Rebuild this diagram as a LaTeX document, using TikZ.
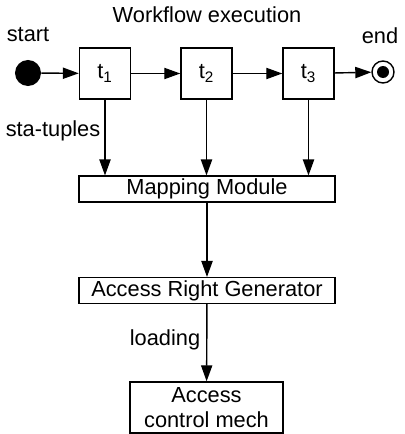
\documentclass[tikz,border=0pt]{standalone}
\usepackage{fontspec}
\setmainfont{Liberation Sans}
\usetikzlibrary{arrows.meta}
\begin{document}
\begin{tikzpicture}[
		x=0.025cm, y=-0.025cm,
		font=\fontsize{15.5}{18}\selectfont,
		task/.style={draw, line width=1pt, minimum width=1.275cm, minimum height=1.275cm, inner sep=0pt},
		module/.style={draw, line width=1pt, minimum width=6.4cm, minimum height=0.64cm, inner sep=0pt},
		arrow/.style={-{Triangle[length=0.4cm, width=0.28cm]}, line width=1pt}
	]
	\useasboundingbox (0,0) rectangle (404,434);

	% Workflow execution
	\node (title) at (207,15) {Workflow execution};
	\node (startlbl) at (28,35) {start};
	\node (endlbl) at (380,36) {end};

	\node[circle, fill=black, minimum size=0.65cm, inner sep=0pt] (start) at (28,73) {};
	\node[task] (t1) at (105,73.5) {t\textsubscript{1}};
	\node[task] (t2) at (206.5,73.5) {t\textsubscript{2}};
	\node[task] (t3) at (308.5,73.5) {t\textsubscript{3}};
	\node[circle, draw, line width=1pt, minimum size=0.55cm, inner sep=0pt] (end) at (383,72) {};
	\fill (end.center) circle (6);

	\draw[arrow] (start) -- (t1);
	\draw[arrow] (t1) -- (t2);
	\draw[arrow] (t2) -- (t3);
	\draw[arrow] (t3) -- (end);

	% Modules
	\node[module] (map) at (207,189) {Mapping Module};
	\node[module] (arg) at (207,290.5) {Access Right Generator};
	\node[draw, line width=1pt, minimum width=3.825cm, minimum height=1.275cm, inner sep=0pt, align=center] (acm) at (206.5,407.5) {Access\\control mech};

	\draw[arrow] (t1) -- (t1 |- map.north);
	\draw[arrow] (t2) -- (t2 |- map.north);
	\draw[arrow] (t3) -- (t3 |- map.north);
	\node (sta) at (53,131) {sta-tuples};

	\draw[arrow] (map) -- (arg);
	\draw[arrow] (arg) -- (acm);
	\node (load) at (165,340) {loading};

\end{tikzpicture}
\end{document}
